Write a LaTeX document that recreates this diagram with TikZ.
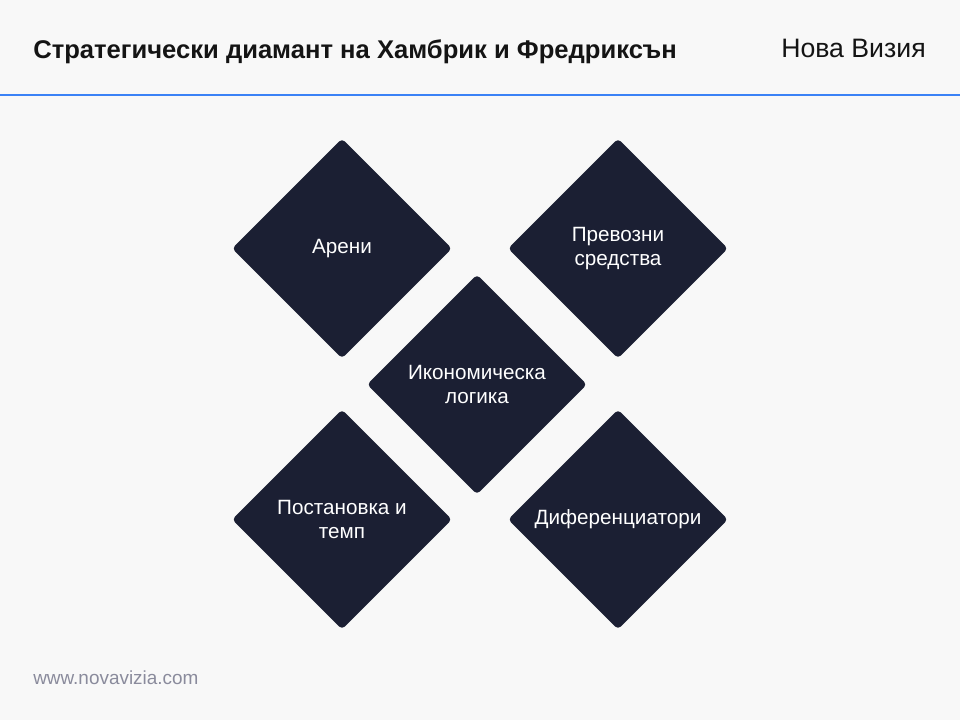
\documentclass[tikz,border=0pt]{standalone}
\usepackage{fontspec}
\setmainfont{Liberation Sans}
\usetikzlibrary{shapes.geometric,positioning}
\definecolor{navy}{HTML}{1B1F33}
\definecolor{pagebg}{HTML}{F8F8F8}
\definecolor{rulecol}{HTML}{3B82F6}
\definecolor{footgray}{HTML}{8A8B9C}

\begin{document}
\begin{tikzpicture}[x=0.75pt,y=-0.75pt]
            \tikzstyle{facet} = [diamond, aspect=1, fill=navy, rounded corners=3pt, minimum size=165pt, inner sep=0pt, text=white, align=center, font=\fontsize{15.5}{18.5}\selectfont]
            \tikzstyle{label} = [inner sep=0pt, anchor=base west]

            \fill[pagebg] (0,0) rectangle (960,720);
            \useasboundingbox (0,0) rectangle (960,720);
            \draw[rulecol, line width=1.5pt] (0,95) -- (960,95);

            \node [label, font=\bfseries\fontsize{19.2}{23}\selectfont, text=black!92] (title) at (33,59) {Стратегически диамант на Хамбрик и Фредриксън};
            \node [label, anchor=base east, font=\fontsize{20}{24}\selectfont, text=black!92] (brand) at (926,58) {Нова Визия};
            \node [label, font=\fontsize{14.2}{17}\selectfont, text=footgray] (site) at (33,684) {www.novavizia.com};

            \node [facet] (logic) at (477,384.5) {Икономическа\\логика};
            \node [facet] (arenas) at (342,248.5) {Арени};
            \node [facet] (vehicles) at (618,248.5) {Превозни\\средства};
            \node [facet] (staging) at (342,519.5) {Постановка и\\темп};
            \node [facet] (diffs) at (618,519.5) {Диференциатори};
\end{tikzpicture}
\end{document}
